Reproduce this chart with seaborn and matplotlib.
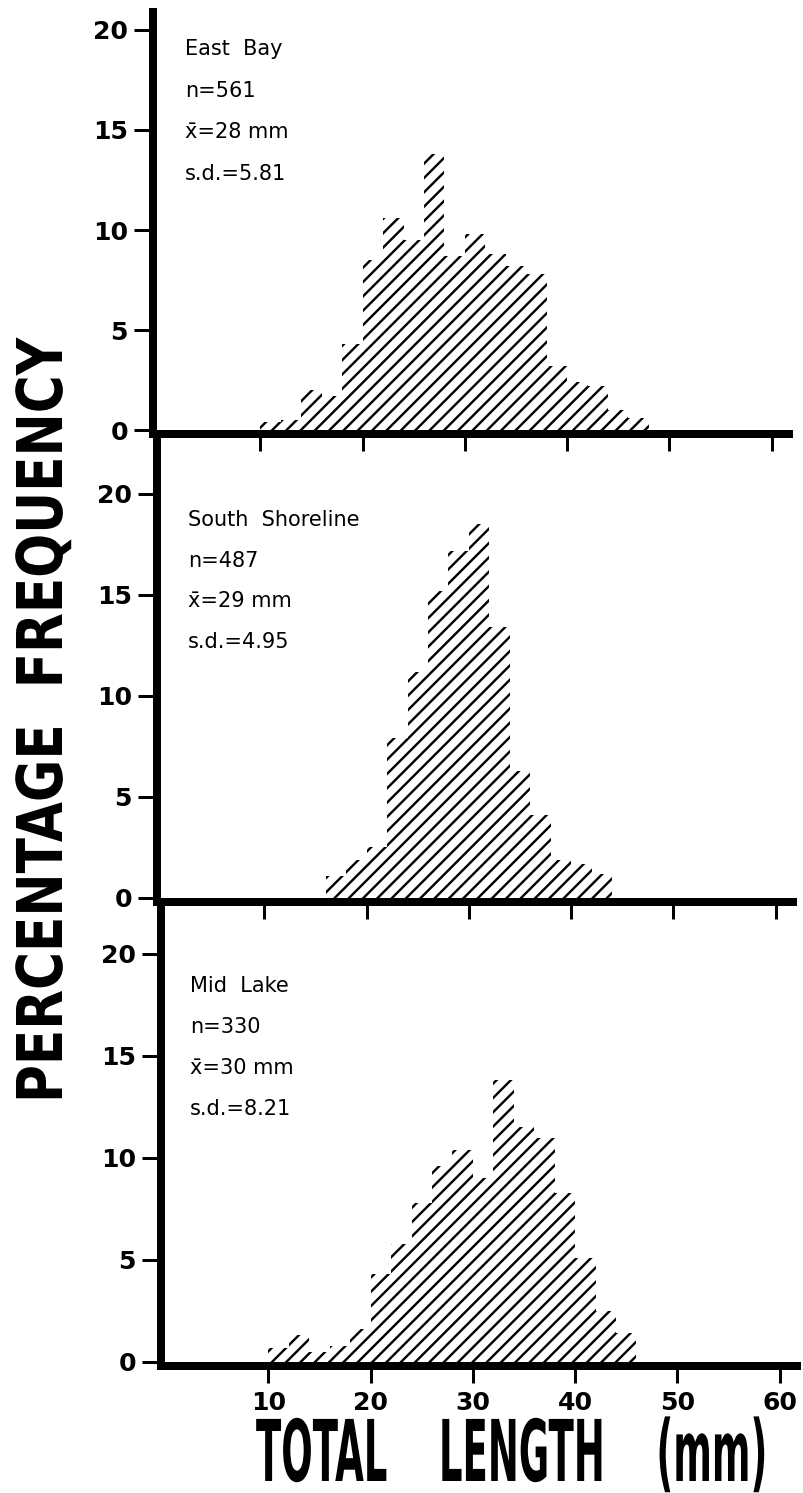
import numpy as np
import pandas as pd
import matplotlib
matplotlib.use("Agg")
import matplotlib.pyplot as plt
import seaborn as sns
from matplotlib.patheffects import AbstractPathEffect
from matplotlib.transforms import Affine2D

# ---------------- data ----------------
site_names = ["East  Bay", "South  Shoreline", "Mid  Lake"]
n_values = [561, 487, 330]
mean_values = [28, 29, 30]
sd_values = ["5.81", "4.95", "8.21"]

bin_width = 2  # mm
east_bay_bins = [10, 12, 14, 16, 18, 20, 22, 24, 26, 28, 30, 32, 34, 36, 38, 40, 42, 44, 46]
east_bay_pct = [0.4, 0.5, 2.0, 1.7, 4.3, 8.5, 10.6, 9.5, 13.8, 8.7, 9.8, 8.8, 8.2, 7.8,
                3.2, 2.4, 2.2, 1.0, 0.6]

south_bins = [16, 18, 20, 22, 24, 26, 28, 30, 32, 34, 36, 38, 40, 42]
south_pct = [1.1, 1.9, 2.5, 7.9, 11.2, 15.2, 17.2, 18.5, 13.4, 6.3, 4.1, 1.9, 1.7, 1.2]

mid_bins = [10, 12, 14, 16, 18, 20, 22, 24, 26, 28, 30, 32, 34, 36, 38, 40, 42, 44]
mid_pct = [0.7, 1.3, 0.5, 0.8, 1.6, 4.3, 5.8, 7.8, 9.6, 10.4, 9.0, 13.8, 11.5, 11.0,
           8.3, 5.1, 2.5, 1.4]

y_ticks = [0, 5, 10, 15, 20]
x_ticks = [10, 20, 30, 40, 50, 60]
x_words = ["TOTAL", "LENGTH", "(mm)"]
y_words = ["PERCENTAGE", "FREQUENCY"]

# ---------------- helpers ----------------
class Stretch(AbstractPathEffect):
    """Stretch glyphs across the text direction (tall condensed lettering)."""
    def __init__(self, sx=1.0, sy=1.0):
        super().__init__(offset=(0.0, 0.0))
        self._sx = sx
        self._sy = sy

    def draw_path(self, renderer, gc, tpath, affine, rgbFace=None):
        renderer.draw_path(gc, tpath, Affine2D().scale(self._sx, self._sy) + affine, rgbFace)


W, H, DPI = 803, 1493, 86
plt.rcParams["hatch.linewidth"] = 2.0
plt.rcParams["font.family"] = ["DejaVu Sans"]

fig = plt.figure(figsize=(W / DPI, H / DPI), dpi=DPI)
fig.patch.set_facecolor("white")


def px_axes(left, top, right, bottom):
    return fig.add_axes([left / W, 1 - bottom / H, (right - left) / W, (bottom - top) / H])


def pt(px):
    return px * 72.0 / DPI


panel_data = [(east_bay_bins, east_bay_pct), (south_bins, south_pct), (mid_bins, mid_pct)]
layout = [
    dict(left=153, top=12, bottom=434, ytop=20.9),
    dict(left=157, top=438, bottom=902, ytop=22.77),
    dict(left=161, top=906, bottom=1366, ytop=22.35),
]
text_pos = [(185, [55, 97, 138, 180]), (188, [526, 567, 607, 648]), (190, [992, 1033, 1074, 1115])]

for i, ((bins, pct), lay) in enumerate(zip(panel_data, layout)):
    ax = px_axes(lay["left"], lay["top"], lay["left"] + 636, lay["bottom"])
    df = pd.DataFrame({"length": np.asarray(bins) + bin_width / 2, "pct": pct})
    edges = list(bins) + [bins[-1] + bin_width]
    sns.histplot(data=df, x="length", weights="pct", bins=edges, ax=ax, stat="count",
                 element="bars", fill=True, facecolor="white", edgecolor="black",
                 linewidth=0, hatch="//")
    ax.set_xlim(-0.5, 61.7)
    ax.set_ylim(-0.2, lay["ytop"])
    ax.set_xlabel("")
    ax.set_ylabel("")
    ax.set_facecolor("none")
    for s in ["top", "right"]:
        ax.spines[s].set_visible(False)
    for s in ["left", "bottom"]:
        ax.spines[s].set_linewidth(pt(8))
        ax.spines[s].set_color("black")
    ax.set_yticks(y_ticks)
    ax.set_yticklabels([str(t) for t in y_ticks])
    ax.tick_params(axis="y", direction="out", length=pt(19), width=pt(3), pad=pt(6),
                   labelsize=21, colors="black")
    ax.set_xticks(x_ticks)
    ax.tick_params(axis="x", direction="out", length=pt(17), width=pt(3), pad=pt(8),
                   labelsize=21, colors="black")
    if i < 2:
        ax.set_xticklabels([])
    else:
        ax.set_xticklabels([str(t) for t in x_ticks])
    for lab in ax.get_yticklabels() + ax.get_xticklabels():
        lab.set_fontweight("bold")

    # panel annotation
    tx, tys = text_pos[i]
    lines = [site_names[i], f"n={n_values[i]}", f"x\u0304={mean_values[i]} mm",
             f"s.d.={sd_values[i]}"]
    for s, ty in zip(lines, tys):
        fig.text(tx / W, 1 - ty / H, s, fontsize=17.5, ha="left", va="baseline",
                 color="black")

# axis titles with tall, condensed lettering
xlab = fig.text(256 / W, 1 - 1481 / H, (" " * 4).join(x_words), fontsize=31,
                fontweight="bold", ha="left", va="baseline", color="black")
xlab.set_path_effects([Stretch(1.0, 2.30)])

ylab = fig.text(48 / W, 1 - 1103 / H, (" " * 2).join(y_words), fontsize=43.3,
                fontweight="bold", rotation=90, ha="center", va="bottom", color="black")
ylab.set_path_effects([Stretch(1.0, 1.22)])

fig.savefig("out.png", dpi=DPI, facecolor="white")
